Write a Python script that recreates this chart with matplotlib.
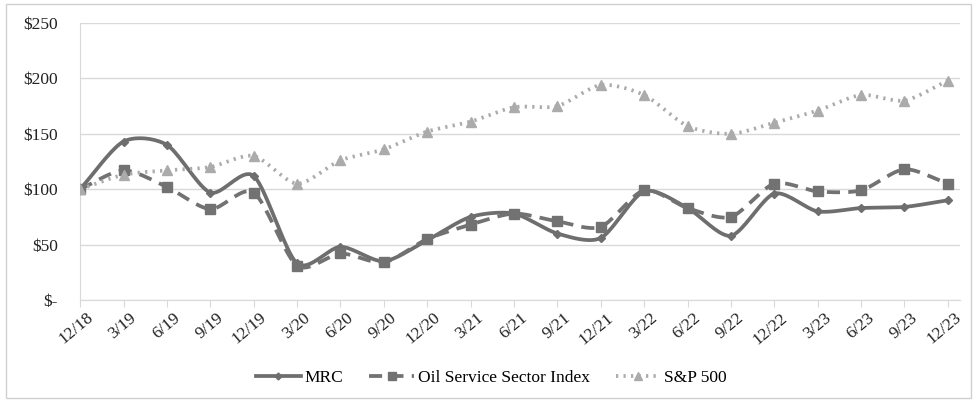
import numpy as np
import matplotlib
matplotlib.use("Agg")
import matplotlib.pyplot as plt
from matplotlib.patches import Rectangle
from matplotlib.transforms import ScaledTranslation

quarters = ["12/18", "3/19", "6/19", "9/19", "12/19", "3/20", "6/20", "9/20", "12/20",
            "3/21", "6/21", "9/21", "12/21", "3/22", "6/22", "9/22", "12/22",
            "3/23", "6/23", "9/23", "12/23"]
mrc = [100, 143, 140, 97, 112, 33, 48, 35, 54, 75, 78, 60, 56, 98, 83, 58, 96, 80, 83, 84, 90]
oil = [100, 117, 102, 82, 97, 31, 42, 34, 55, 68, 78, 71, 66, 99, 83, 75, 105, 98, 99, 118, 105]
spx = [100, 113, 117, 120, 130, 105, 126, 136, 152, 161, 174, 175, 194, 185, 157, 150, 160, 171, 185, 180, 198]
yticks = [0, 50, 100, 150, 200, 250]
ylabels = ["$-", "$50", "$100", "$150", "$200", "$250"]

plt.rcParams['font.family'] = ['Liberation Serif', 'DejaVu Serif']


def smooth(x, y, n=20):
    # Catmull-Rom style curve through the points, like Excel's smoothed lines
    x = np.asarray(x, float)
    y = np.asarray(y, float)
    px = np.concatenate([[2 * x[0] - x[1]], x, [2 * x[-1] - x[-2]]])
    py = np.concatenate([[2 * y[0] - y[1]], y, [2 * y[-1] - y[-2]]])
    xs, ys = [], []
    t = np.linspace(0, 1, n, endpoint=False)
    for i in range(1, len(px) - 2):
        for p, out in ((px, xs), (py, ys)):
            p0, p1, p2, p3 = p[i - 1], p[i], p[i + 1], p[i + 2]
            m1 = (p2 - p0) / 2 * 0.8
            m2 = (p3 - p1) / 2 * 0.8
            h00 = 2 * t**3 - 3 * t**2 + 1
            h10 = t**3 - 2 * t**2 + t
            h01 = -2 * t**3 + 3 * t**2
            h11 = t**3 - t**2
            out.extend(h00 * p1 + h10 * m1 + h01 * p2 + h11 * m2)
    xs.append(x[-1])
    ys.append(y[-1])
    return np.array(xs), np.array(ys)


fig = plt.figure(figsize=(9.77, 4.0), dpi=100)
fig.patches.append(Rectangle((0.006, 0.005), 0.988, 0.985, transform=fig.transFigure,
                             fill=False, ec='#d0d0d0', lw=1))
ax = fig.add_axes([0.082, 0.25, 0.9006, 0.6925])

x = np.arange(len(quarters))
series = [
    ("MRC", mrc, '#6e6e6e', '-', 'D', 4, 2.7, 3.5),
    ("Oil Service Sector Index", oil, '#727272', (0, (3.5, 2.2)), 's', 7, 2.7, 6),
    ("S&P 500", spx, '#ababab', (0, (0.6, 1.4)), '^', 7, 2.7, 6),
]
handles = []
for name, vals, col, ls, mk, ms, lw, lms in series:
    sx, sy = smooth(x, vals)
    ax.plot(sx, sy, color=col, ls=ls, lw=lw, zorder=3, dash_capstyle='butt')
    ax.plot(x, vals, ls='none', marker=mk, ms=ms, color=col, zorder=4)
    h, = ax.plot([], [], color=col, ls=ls, lw=lw, marker=mk, ms=lms)
    handles.append(h)

ax.set_ylim(0, 250)
ax.set_xlim(0, 20.28)
ax.set_yticks(yticks)
ax.set_yticklabels(ylabels)
ax.set_xticks(x)
ax.set_xticklabels(quarters, rotation=40, ha='right', rotation_mode='anchor')
ax.grid(axis='y', color='#d9d9d9', lw=1)
ax.set_axisbelow(True)
for s in ['top', 'right']:
    ax.spines[s].set_visible(False)
for s in ['left', 'bottom']:
    ax.spines[s].set_color('#d9d9d9')
ax.tick_params(axis='y', length=0, pad=16, labelsize=12.5, colors='#222222')
ax.tick_params(axis='x', length=5, color='#d9d9d9', pad=2, labelsize=12.5, labelcolor='#222222')
shift = ScaledTranslation(6 / 100, 0, fig.dpi_scale_trans)
for lab in ax.get_xticklabels():
    lab.set_transform(lab.get_transform() + shift)

fig.legend(handles, [s[0] for s in series], loc='center', bbox_to_anchor=(0.503, 0.055),
           ncol=3, frameon=False, fontsize=12.5, handlelength=2.6, columnspacing=1.5,
           handletextpad=0.2)

fig.savefig("out.png", dpi=100)
